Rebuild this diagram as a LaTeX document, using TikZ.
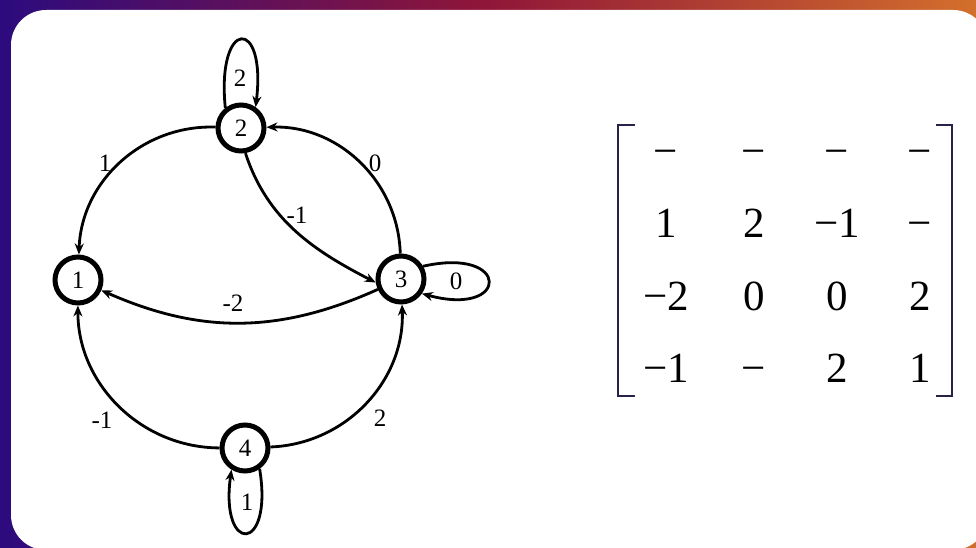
\documentclass[tikz,border=0pt]{standalone}
\usepackage{fontspec}
\setmainfont{Liberation Serif}
\usetikzlibrary{arrows.meta}
\definecolor{bgL}{HTML}{2C0B7E}
\definecolor{bgM}{HTML}{901638}
\definecolor{bgR}{HTML}{D36F2C}
\definecolor{brk}{HTML}{26234A}
\begin{document}
\begin{tikzpicture}[x=1pt,y=1pt,
  vert/.style={circle,draw,line width=5pt,minimum size=46pt,inner sep=0pt,font=\fontsize{25}{25}\selectfont},
  edge/.style={line width=2.8pt,-{Stealth[length=11pt,width=9pt]}},
  elab/.style={font=\fontsize{25}{25}\selectfont,inner sep=0pt},
  ment/.style={font=\fontsize{43}{43}\selectfont,anchor=base,inner sep=0pt},
  brack/.style={draw=brk,line width=2pt}]
\useasboundingbox (0,0) rectangle (976,547);
\begin{scope}
\clip (0,0) rectangle (976,547);
\shade[left color=bgL,right color=bgR,middle color=bgM] (0,0) rectangle (976,547);
\fill[white,rounded corners=35pt] (11,-3) rectangle (988,537);
\end{scope}
% vertices
\node[vert] (n1) at (78,267) {1};
\node[vert] (n2) at (241,419) {2};
\node[vert] (n3) at (401,268) {3};
\node[vert] (n4) at (245,99) {4};
% edges
\draw[edge] (n2) to[bend right=45] (n1);
\draw[edge] (n3) to[bend right=45] (n2);
\draw[edge] (n4) to[bend left=45] (n1);
\draw[edge] (n4) to[bend right=45] (n3);
\draw[edge] (n2.-80) .. controls +(22,-67) and +(-62,32) .. (n3.188);
\draw[edge] (n3) to[bend left=24] (n1);
% loops
\draw[edge] (n2.128) .. controls +(-9,90) and +(11,91) .. (n2.55);
\draw[edge] (n3.30) .. controls +(88,20) and +(88,-24) .. (n3.-35);
\draw[edge] (n4.-55) .. controls +(14,-85) and +(-12,-85) .. (n4.-122);
% labels
\node[elab] (l22) at (240,469) {2};
\node[elab] (l33) at (456,266) {0};
\node[elab] (l44) at (247,45) {1};
\node[elab] (l21) at (105,384) {1};
\node[elab] (l32) at (375,384) {0};
\node[elab] (l23) at (297,332) {-1};
\node[elab] (l31) at (233,244) {-2};
\node[elab] (l41) at (102,127) {-1};
\node[elab] (l43) at (380,129) {2};
% matrix
\draw[brack] (635,422) -- (618,422) -- (618,151) -- (635,151);
\draw[brack] (936,422) -- (952,422) -- (952,151) -- (936,151);
\node[ment] (m11) at (666,381) {−};
\node[ment] (m12) at (754,381) {−};
\node[ment] (m13) at (837,381) {−};
\node[ment] (m14) at (920,381) {−};
\node[ment] (m21) at (666,310) {1};
\node[ment] (m22) at (754,310) {2};
\node[ment] (m23) at (837,310) {−1};
\node[ment] (m24) at (920,310) {−};
\node[ment] (m31) at (666,237) {−2};
\node[ment] (m32) at (754,237) {0};
\node[ment] (m33) at (837,237) {0};
\node[ment] (m34) at (920,237) {2};
\node[ment] (m41) at (666,165) {−1};
\node[ment] (m42) at (754,165) {−};
\node[ment] (m43) at (837,165) {2};
\node[ment] (m44) at (920,165) {1};
\end{tikzpicture}
\end{document}
